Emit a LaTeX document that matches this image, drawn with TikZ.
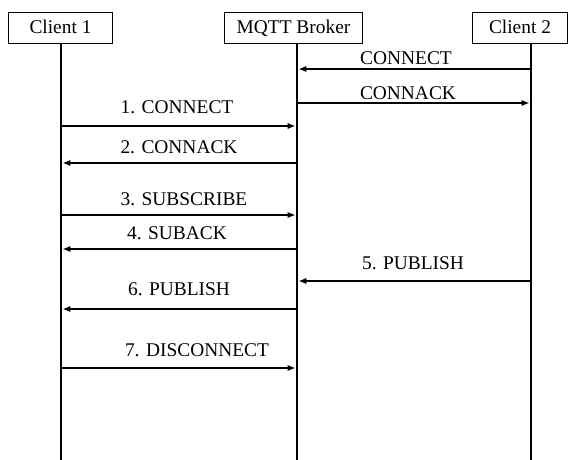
\documentclass[tikz,border=0pt]{standalone}
\usepackage{fontspec}
\setmainfont{Liberation Serif}
\usetikzlibrary{arrows.meta,positioning}

\begin{document}
\begin{tikzpicture}[
  x=0.025cm, y=-0.025cm,
  font=\fontsize{13.8}{16}\selectfont,
  party/.style={
    draw=black, line width=0.7pt,
    minimum height=0.775cm, inner sep=0pt,
    text height=0.88em, text depth=0pt,
    align=center,
  },
  lifeline/.style={draw=black, line width=0.9pt},
  msg/.style={-{Latex[length=2mm,width=1.6mm]}, draw=black, line width=1.3pt, shorten >=1pt},
  lbl/.style={inner sep=0pt},
]

% fixed frame (same size as the reference)
\useasboundingbox (0,0) rectangle (574,460);

% participants
\node[party, minimum width=2.575cm] (c1)     at (60.5,27.5)  {Client 1};
\node[party, minimum width=3.425cm] (broker) at (293.5,27.5) {MQTT Broker};
\node[party, minimum width=2.35cm]  (c2)     at (520,27.5)   {Client 2};

% lifeline ends
\coordinate (c1top) at (61,43);   \coordinate (c1bot) at (61,460);
\coordinate (brtop) at (297,43);  \coordinate (brbot) at (297,460);
\coordinate (c2top) at (531,43);  \coordinate (c2bot) at (531,460);

\draw[lifeline] (c1top) -- (c1bot);
\draw[lifeline] (brtop) -- (brbot);
\draw[lifeline] (c2top) -- (c2bot);

% Client 2 session
\draw[msg] (c2top |- 0,69)  -- (brtop |- 0,69);
\draw[msg] (brtop |- 0,103) -- (c2top |- 0,103);
\node[lbl] (c2Connect) at (406,58) {CONNECT};
\node[lbl] (c2Connack) at (408,93) {CONNACK};

% Client 1 session
\draw[msg] (c1top |- 0,126) -- (brtop |- 0,126);
\draw[msg] (brtop |- 0,163) -- (c1top |- 0,163);
\draw[msg] (c1top |- 0,215) -- (brtop |- 0,215);
\draw[msg] (brtop |- 0,249) -- (c1top |- 0,249);
\node[lbl] (m1) at (177,107) {1. CONNECT};
\node[lbl] (m2) at (179,147) {2. CONNACK};
\node[lbl] (m3) at (184,199) {3. SUBSCRIBE};
\node[lbl] (m4) at (177,233) {4. SUBACK};

% publish from Client 2, forwarded to Client 1
\draw[msg] (c2top |- 0,281) -- (brtop |- 0,281);
\draw[msg] (brtop |- 0,309) -- (c1top |- 0,309);
\node[lbl] (m5) at (413,263) {5. PUBLISH};
\node[lbl] (m6) at (179,289) {6. PUBLISH};

% disconnect
\draw[msg] (c1top |- 0,368) -- (brtop |- 0,368);
\node[lbl] (m7) at (197,350) {7. DISCONNECT};

\end{tikzpicture}
\end{document}
